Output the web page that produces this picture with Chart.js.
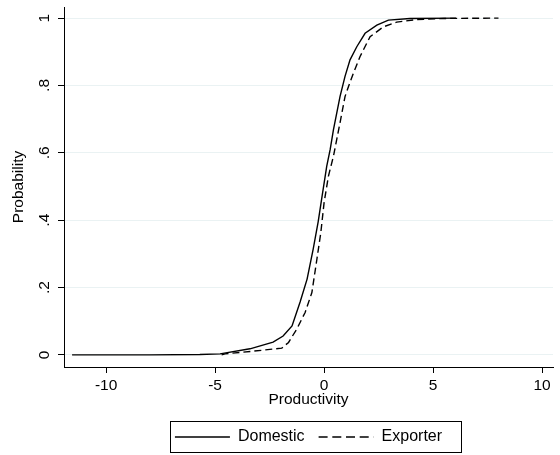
<!DOCTYPE html>
<html>
<head>
<meta charset="utf-8">
<script src="https://cdn.jsdelivr.net/npm/chart.js@4.4.1/dist/chart.umd.min.js"></script>
<style>
  body { margin: 0; background: #fff; }
  canvas { display: block; }
</style>
</head>
<body>
<canvas id="my-chart" width="560" height="455"></canvas>
<script>
'use strict';
// ***** DATA *****
let seriesNames = ['Domestic', 'Exporter'];
let domesticX = [-11.56, -8, -5.7, -4.77, -3.4, -2.34, -1.88, -1.47, -1.1, -0.78, -0.5, -0.27, -0.09, 0.12, 0.28, 0.43, 0.73, 0.96, 1.19, 1.5, 1.88, 2.42, 2.95, 3.94, 6.05];
let domesticY = [0, 0, 0.001, 0.003, 0.018, 0.038, 0.056, 0.086, 0.157, 0.225, 0.314, 0.396, 0.472, 0.56, 0.61, 0.669, 0.767, 0.827, 0.876, 0.915, 0.955, 0.979, 0.994, 0.999, 1];
let exporterX = [-4.7, -4.54, -3.39, -1.94, -1.63, -1.25, -0.87, -0.56, -0.33, -0.15, 0.0, 0.2, 0.43, 0.73, 0.96, 1.12, 1.34, 1.65, 2.11, 2.72, 3.33, 4.25, 5.5, 8.0];
let exporterY = [0, 0.003, 0.01, 0.02, 0.037, 0.077, 0.126, 0.185, 0.284, 0.363, 0.452, 0.531, 0.59, 0.689, 0.767, 0.797, 0.836, 0.886, 0.945, 0.974, 0.988, 0.996, 0.999, 1];
let xTicks = [-10, -5, 0, 5, 10];
let yTicks = [0, 0.2, 0.4, 0.6, 0.8, 1];
let yTickLabels = ['0', '.2', '.4', '.6', '.8', '1'];

// ***** CANVAS ELEMENT *****
let ctx = document.getElementById('my-chart');

Chart.defaults.font.family = '"Liberation Sans", Arial, sans-serif';
Chart.defaults.font.size = 15.5;
Chart.defaults.color = '#000';

// Pair up x and y arrays into points
function toPoints(xs, ys) {
  return xs.map((x, i) => ({ x: x, y: ys[i] }));
}

// Rotated y tick labels (Stata style) + box round the legend
let stataExtras = {
  id: 'stataExtras',
  afterDraw(chart) {
    let c = chart.ctx;
    let yScale = chart.scales.y;
    c.save();
    c.fillStyle = '#000';
    c.font = '15.5px "Liberation Sans", Arial, sans-serif';
    c.textAlign = 'center';
    c.textBaseline = 'middle';
    yTicks.forEach((v, i) => {
      let py = yScale.getPixelForValue(v);
      c.save();
      c.translate(45, py);
      c.rotate(-Math.PI / 2);
      c.fillText(yTickLabels[i], 0, 0);
      c.restore();
    });

    // Legend border
    let boxes = chart.legend.legendHitBoxes;
    if (boxes && boxes.length) {
      let first = boxes[0];
      let last = boxes[boxes.length - 1];
      let left = Math.round(first.left - 5) + 0.5;
      let right = Math.round(last.left + last.width + 19) + 0.5;
      let top = Math.round(first.top - 8) + 0.5;
      let bottom = Math.round(first.top + first.height + 7) + 0.5;
      c.strokeStyle = '#000';
      c.lineWidth = 1;
      c.strokeRect(left, top, right - left, bottom - top);
    }
    c.restore();
  }
};

let chartDatasets = [
  {
    label: seriesNames[0],
    data: toPoints(domesticX, domesticY),
    borderColor: '#000',
    borderWidth: 1.4,
    pointRadius: 0,
    tension: 0,
    fill: false
  },
  {
    label: seriesNames[1],
    data: toPoints(exporterX, exporterY),
    borderColor: '#000',
    borderWidth: 1.4,
    borderDash: [7, 4],
    pointRadius: 0,
    tension: 0,
    fill: false
  }
];

// Legend items keep the dataset's dash pattern (a bit longer in the key)
function legendLabels(chart) {
  let items = Chart.defaults.plugins.legend.labels.generateLabels(chart);
  items.forEach((item) => {
    let ds = chart.data.datasets[item.datasetIndex];
    item.lineDash = ds.borderDash ? [9, 4.7] : [];
    item.lineWidth = ds.borderWidth;
    item.strokeStyle = ds.borderColor;
  });
  return items;
}

let chartOptions = {
  responsive: false,
  animation: false,
  devicePixelRatio: 1,
  layout: { padding: { left: 0, right: 7, top: 7, bottom: 0 } },
  plugins: {
    tooltip: { enabled: false },
    legend: {
      position: 'bottom',
      fullSize: false,
      labels: {
        usePointStyle: true,
        pointStyle: 'line',
        pointStyleWidth: 55,
        padding: 14,
        color: '#000',
        font: { size: 16 },
        generateLabels: legendLabels
      }
    }
  },
  scales: {
    x: {
      type: 'linear',
      min: -11.93,
      max: 10.5,
      afterBuildTicks: (scale) => { scale.ticks = xTicks.map(v => ({ value: v })); },
      afterFit: (scale) => { scale.height = 48; },
      ticks: { padding: 3, maxRotation: 0, autoSkip: false },
      grid: { drawOnChartArea: false, drawTicks: true, tickLength: 6, tickColor: '#000' },
      border: { color: '#000', width: 1 },
      title: { display: true, text: 'Productivity', padding: { top: 0, bottom: 6 } }
    },
    y: {
      type: 'linear',
      min: -0.036,
      max: 1.033,
      afterBuildTicks: (scale) => { scale.ticks = yTicks.map(v => ({ value: v })); },
      afterFit: (scale) => { scale.width = 64; },
      ticks: { display: false },
      grid: { color: 'rgb(234,242,243)', lineWidth: 1, drawTicks: true, tickLength: 6, tickColor: '#000' },
      border: { color: '#000', width: 1 },
      title: { display: true, text: 'Probability', padding: { top: 9, bottom: 0 } }
    }
  }
};

new Chart(ctx, {
  type: 'line',
  data: { datasets: chartDatasets },
  options: chartOptions,
  plugins: [stataExtras]
});
</script>
</body>
</html>
